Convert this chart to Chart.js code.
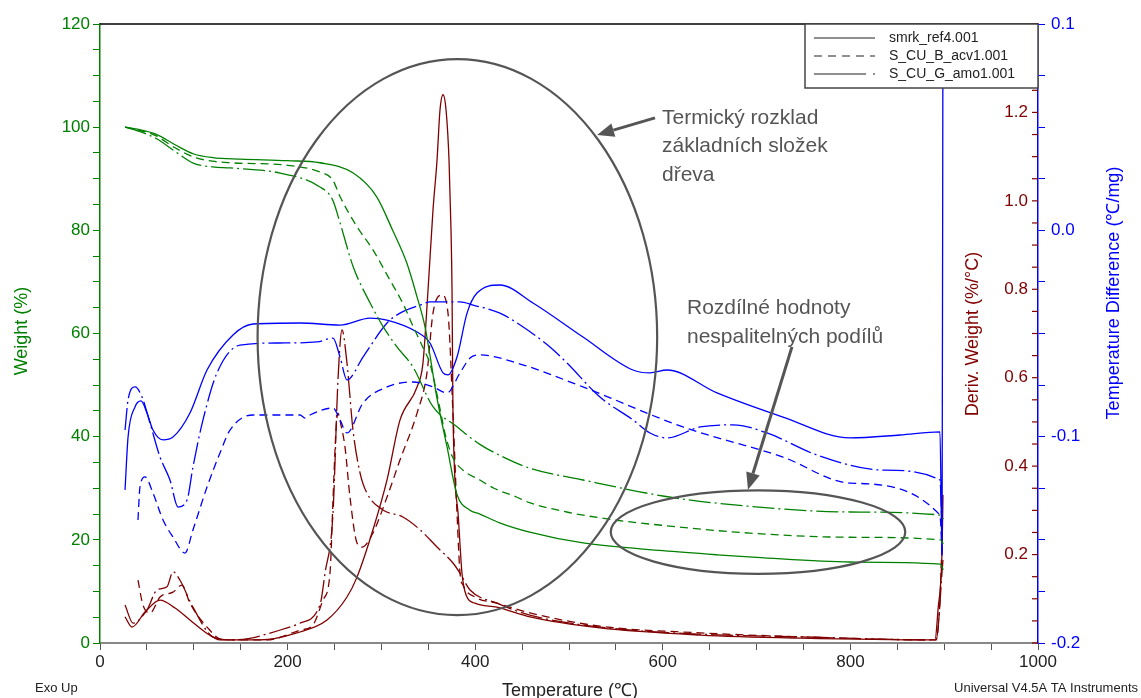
<!DOCTYPE html>
<html>
<head>
<meta charset="utf-8">
<title>TGA / DTA smrk</title>
<script src="https://cdn.jsdelivr.net/npm/chart.js@4.4.0/dist/chart.umd.min.js"></script>
<style>
  html, body { margin: 0; padding: 0; background: #fff; }
  #wrap { width: 1141px; height: 698px; position: relative; }
</style>
</head>
<body>
<div id="wrap"><canvas id="tgaChart"></canvas></div>
<script>
// Sample files
const sampleNames = ['smrk_ref4.001', 'S_CU_B_acv1.001', 'S_CU_G_amo1.001'];

// Weight (%) vs temperature (°C)
const weightRef = [[26.7,100],[40,99.6],[60,98.6],[80,96.6],[100,94.8],[120,94.1],[150,93.8],[200,93.5],[234.5,93.1],[270,91.1],[295,86.5],[312,80],[327,73.7],[338,67.1],[346.5,61.3],[352,55.5],[359,47.7],[370,38],[380.6,28.8],[394,25.8],[405,25.0],[426,23.3],[458,21.5],[515,19.4],[600,17.9],[658,17.1],[700,16.6],[800,15.7],[896,15.3],[899,14.2]];
const weightAcv = [[26.7,100],[40,99.5],[60,98.3],[80,96],[100,94.2],[120,93.4],[139,93.1],[200,92.6],[234.5,91.3],[248,89.8],[256,86.5],[274,80.7],[291,76.2],[309,70.4],[323,65.8],[334,61.3],[345,57],[352,54],[362,45.8],[368,40.5],[376,36],[387,33.5],[405,31.6],[420,30],[444,28.3],[458,27.2],[500,25.3],[551,23.8],[600,22.8],[693,21.3],[800,20.5],[896,20],[899,19.2]];
const weightAmo = [[26.7,100],[40,99.3],[60,97.8],[80,95.3],[100,93],[120,92.3],[139,92.1],[192,91.1],[234.5,88.4],[248,85.9],[256,81.4],[270,72.9],[288,65.9],[302,61.3],[316.6,57.4],[333.7,53.5],[355,45.8],[380,42],[405,38.5],[426,36.4],[458,33.9],[515,31.6],[600,28.5],[658,27.1],[800,25.4],[896,24.8],[899,24]];

// Derivative weight (%/°C)
const derivRef = [[26.7,0.059],[34.1,0.036],[48,0.070],[64,0.097],[80,0.079],[95.9,0.052],[111.9,0.025],[127.9,0.007],[170.6,0.007],[210,0.023],[242,0.052],[263.3,0.104],[274,0.149],[291,0.256],[306,0.369],[319.8,0.504],[338,0.579],[344.3,0.633],[349.7,0.798],[355,0.979],[359.3,1.092],[362.5,1.206],[365.7,1.240],[368.9,1.206],[372.1,1.092],[374.2,0.934],[375.3,0.798],[376.3,0.520],[381.7,0.294],[385.9,0.158],[390.2,0.109],[399.8,0.090],[423.2,0.081],[458.4,0.059],[533,0.034],[639.7,0.018],[746.3,0.011],[890.2,0.007],[893.4,0.075],[897.7,0.210],[898.7,0.335]];
const derivAcv = [[40.5,0.142],[45.8,0.086],[53.3,0.068],[64,0.104],[77.8,0.115],[87.4,0.131],[95.9,0.090],[114.1,0.036],[131.1,0.007],[178,0.007],[213.2,0.029],[227.1,0.041],[237.7,0.097],[245.2,0.158],[248.4,0.323],[251.6,0.482],[253.7,0.520],[256.9,0.493],[261.2,0.443],[266.5,0.330],[274,0.226],[279.3,0.217],[291,0.249],[306,0.330],[319.8,0.414],[338,0.520],[348.6,0.611],[355,0.746],[364.6,0.787],[371,0.746],[376.3,0.520],[380.6,0.294],[383.8,0.158],[387,0.131],[399.8,0.104],[423.2,0.090],[458.4,0.068],[533,0.038],[639.7,0.023],[746.3,0.014],[891.3,0.007],[895.5,0.097],[897.7,0.233]];
const derivAmo = [[26.7,0.086],[35.2,0.045],[50.1,0.075],[60.8,0.120],[71.4,0.127],[77.8,0.161],[85.3,0.142],[99.1,0.081],[120.5,0.014],[141.8,0.007],[199.4,0.034],[213.2,0.045],[234.5,0.086],[239.9,0.158],[248.4,0.294],[253.7,0.595],[258,0.708],[263.3,0.633],[269.7,0.482],[277.2,0.385],[284.6,0.339],[301.7,0.301],[323,0.285],[341.2,0.256],[359.3,0.217],[376.3,0.181],[383.8,0.158],[394.5,0.120],[423.2,0.090],[458.4,0.063],[533,0.036],[639.7,0.020],[746.3,0.014],[891.3,0.007],[898.7,0.188]];

// Temperature difference (°C/mg)
const dtaRef = [[26.7,-0.1258],[29.9,-0.1002],[37.3,-0.0856],[43.7,-0.0827],[50.1,-0.0885],[56.5,-0.0968],[67.2,-0.1016],[77.8,-0.1002],[95.9,-0.0885],[114.1,-0.0677],[141.8,-0.0507],[163.1,-0.0454],[213.2,-0.0449],[255.9,-0.0459],[287.8,-0.0425],[306,-0.0435],[338,-0.0493],[351.8,-0.0546],[365.7,-0.0691],[371,-0.0701],[380.6,-0.0614],[391.3,-0.0401],[401.9,-0.0304],[426.4,-0.0265],[461.6,-0.0352],[514.9,-0.0517],[568.2,-0.0677],[586.4,-0.0691],[604.5,-0.0677],[657.8,-0.0788],[728.1,-0.0905],[799.6,-0.1006],[852.9,-0.0992],[895.5,-0.0977],[897.7,-0.1574],[898.7,0.12]];
const dtaAcv = [[40.5,-0.1404],[42.6,-0.1244],[48,-0.1195],[56.5,-0.1273],[67.2,-0.1404],[77.8,-0.1486],[90.6,-0.1564],[99.1,-0.1452],[114.1,-0.1244],[127.9,-0.1079],[138.6,-0.0968],[163.1,-0.0895],[213.2,-0.0895],[218.6,-0.0910],[223.9,-0.0895],[248.4,-0.0861],[255.9,-0.0919],[263.3,-0.0982],[280.4,-0.0837],[306,-0.0759],[333.7,-0.0735],[355,-0.0759],[369.9,-0.0788],[383.8,-0.0691],[394.5,-0.0619],[405.1,-0.0604],[444.6,-0.0643],[514.9,-0.0759],[621.5,-0.0953],[728.1,-0.1099],[799.6,-0.1225],[895.5,-0.1380],[897.7,-0.1574]];
const dtaAmo = [[26.7,-0.0968],[29.9,-0.0822],[37.3,-0.0759],[44.8,-0.0808],[53.3,-0.0934],[64,-0.1099],[74.6,-0.1210],[83.2,-0.1341],[92.8,-0.1307],[99.1,-0.1147],[109.8,-0.0919],[124.7,-0.0691],[149.3,-0.0556],[191.9,-0.0546],[231.3,-0.0541],[248.4,-0.0522],[255.9,-0.0614],[263.3,-0.0725],[280.4,-0.0614],[306,-0.0449],[319.8,-0.0401],[341.2,-0.0362],[351.8,-0.0347],[383.8,-0.0347],[397.7,-0.0362],[426.4,-0.0401],[444.6,-0.0449],[479.7,-0.0565],[497.9,-0.0643],[533,-0.0808],[568.2,-0.0919],[586.4,-0.0982],[604.5,-0.1006],[639.7,-0.0953],[674.8,-0.0943],[711.1,-0.0982],[764.4,-0.1089],[834.8,-0.1162],[895.5,-0.1210],[897.7,-0.1452]];

// Axis tick labels
const tempTicks = [0, 200, 400, 600, 800, 1000];
const weightTicks = [0, 20, 40, 60, 80, 100, 120];
const derivTicks = [0.2, 0.4, 0.6, 0.8, 1.0, 1.2];
const dtaTicks = [-0.2, -0.1, 0.0, 0.1];

const FONT = "'Liberation Sans', Arial, Helvetica, sans-serif";
const GREEN = '#008000';
const RED = '#800000';
const BLUE = '#0000ff';
const GREY = '#555555';

// line styles per sample: solid, dashed, long dash + dot
const styles = [[], [8, 5], [22, 4, 2, 4]];

function pts(arr) {
    return arr.map(function(p) { return { x: p[0], y: p[1] }; });
}

function series(data, color, i, axis) {
    return {
        label: sampleNames[i],
        data: pts(data),
        borderColor: color,
        borderWidth: 1.3,
        borderDash: styles[i],
        pointRadius: 0,
        fill: false,
        cubicInterpolationMode: 'monotone',
        yAxisID: axis
    };
}

function isOn(v, list) {
    return list.some(function(t) { return Math.abs(t - v) < 1e-6; });
}

// annotations, extra axis, titles and legend
const decorPlugin = {
    id: 'tgaDecor',
    afterDraw: function(chart) {
        const ctx = chart.ctx;
        const a = chart.chartArea;
        const x = chart.scales.x, y = chart.scales.y, yD = chart.scales.yD;
        ctx.save();

        // top frame
        ctx.strokeStyle = '#000';
        ctx.lineWidth = 1.5;
        ctx.beginPath();
        ctx.moveTo(a.left, a.top);
        ctx.lineTo(a.right, a.top);
        ctx.stroke();

        // derivative axis, drawn inside the plot on the right edge
        ctx.strokeStyle = RED;
        ctx.lineWidth = 1.2;
        ctx.fillStyle = RED;
        ctx.font = '17px ' + FONT;
        ctx.textAlign = 'right';
        ctx.textBaseline = 'middle';
        for (let i = 0; i <= 28; i++) {
            const v = i * 0.05;
            const py = yD.getPixelForValue(v);
            ctx.beginPath();
            ctx.moveTo(a.right - 6, py);
            ctx.lineTo(a.right, py);
            ctx.stroke();
            if (isOn(v, derivTicks)) {
                ctx.fillText(v.toFixed(1), a.right - 10, py);
            }
        }

        // ellipses
        function ellipse(cx, cy, rx, ry) {
            const px = x.getPixelForValue(cx), py = y.getPixelForValue(cy);
            const rpx = Math.abs(x.getPixelForValue(cx + rx) - px);
            const rpy = Math.abs(y.getPixelForValue(cy + ry) - py);
            ctx.beginPath();
            ctx.ellipse(px, py, rpx, rpy, 0, 0, Math.PI * 2);
            ctx.stroke();
        }
        ctx.strokeStyle = GREY;
        ctx.lineWidth = 2.2;
        ellipse(381, 59.3, 213, 53.9);
        ellipse(701.5, 21.5, 157, 8.1);

        // arrows
        function arrow(t0, w0, t1, w1) {
            const x0 = x.getPixelForValue(t0), y0 = y.getPixelForValue(w0);
            const x1 = x.getPixelForValue(t1), y1 = y.getPixelForValue(w1);
            const ang = Math.atan2(y1 - y0, x1 - x0);
            const len = 17, half = 7;
            const bx = x1 - len * Math.cos(ang), by = y1 - len * Math.sin(ang);
            ctx.beginPath();
            ctx.moveTo(x0, y0);
            ctx.lineTo(bx, by);
            ctx.stroke();
            ctx.beginPath();
            ctx.moveTo(x1, y1);
            ctx.lineTo(bx + half * Math.sin(ang), by - half * Math.cos(ang));
            ctx.lineTo(bx - half * Math.sin(ang), by + half * Math.cos(ang));
            ctx.closePath();
            ctx.fill();
        }
        ctx.fillStyle = GREY;
        ctx.lineWidth = 3;
        arrow(591.7, 101.8, 529.9, 98.5);
        arrow(737.7, 57.4, 690.8, 29.7);

        // annotation texts
        ctx.font = '21px ' + FONT;
        ctx.textAlign = 'left';
        ctx.textBaseline = 'middle';
        function lines(t, w, list) {
            const px = x.getPixelForValue(t), py = y.getPixelForValue(w);
            list.forEach(function(s, k) { ctx.fillText(s, px, py + k * 28.8); });
        }
        lines(599.1, 101.8, ['Termický rozklad', 'základních složek', 'dřeva']);
        lines(625.8, 64.9, ['Rozdílné hodnoty', 'nespalitelných podílů']);

        // axis titles
        function vtitle(text, cx, cy, color) {
            ctx.save();
            ctx.translate(cx, cy);
            ctx.rotate(-Math.PI / 2);
            ctx.fillStyle = color;
            ctx.textAlign = 'center';
            ctx.textBaseline = 'middle';
            ctx.fillText(text, 0, 0);
            ctx.restore();
        }
        ctx.font = '18px ' + FONT;
        vtitle('Weight (%)', 22, 331, GREEN);
        vtitle('Deriv. Weight (%/°C)', 973, 334, RED);
        vtitle('Temperature Difference (℃/mg)', 1114, 293, BLUE);
        ctx.fillStyle = '#222';
        ctx.textAlign = 'center';
        ctx.textBaseline = 'alphabetic';
        ctx.fillText('Temperature (℃)', 570, 696);

        ctx.font = '13px ' + FONT;
        ctx.textAlign = 'left';
        ctx.fillText('Exo Up', 35, 692);
        ctx.textAlign = 'right';
        ctx.fillText('Universal V4.5A TA Instruments', 1138, 692);

        // legend box
        const lw = 233, lh = 64;
        const lx = a.right - lw, ly = a.top;
        ctx.fillStyle = '#fff';
        ctx.fillRect(lx, ly, lw, lh);
        ctx.strokeStyle = '#444';
        ctx.lineWidth = 1.5;
        ctx.strokeRect(lx, ly, lw, lh);
        const legendDash = [[], [8, 6], [52, 7, 2, 7]];
        ctx.font = '14px ' + FONT;
        ctx.textAlign = 'left';
        ctx.textBaseline = 'middle';
        sampleNames.forEach(function(name, k) {
            const ry = ly + 14 + k * 18;
            ctx.strokeStyle = '#222';
            ctx.lineWidth = 1.2;
            ctx.setLineDash(legendDash[k]);
            ctx.beginPath();
            ctx.moveTo(lx + 9, ry);
            ctx.lineTo(lx + 70, ry);
            ctx.stroke();
            ctx.setLineDash([]);
            ctx.fillStyle = '#222';
            ctx.fillText(name, lx + 84, ry);
        });

        ctx.restore();
    }
};

const ctx = document.getElementById('tgaChart').getContext('2d');
new Chart(ctx, {
    type: 'line',
    data: {
        datasets: [
            series(weightRef, GREEN, 0, 'y'),
            series(weightAcv, GREEN, 1, 'y'),
            series(weightAmo, GREEN, 2, 'y'),
            series(dtaRef, BLUE, 0, 'yT'),
            series(dtaAcv, BLUE, 1, 'yT'),
            series(dtaAmo, BLUE, 2, 'yT'),
            series(derivRef, RED, 0, 'yD'),
            series(derivAcv, RED, 1, 'yD'),
            series(derivAmo, RED, 2, 'yD')
        ]
    },
    options: {
        responsive: true,
        maintainAspectRatio: false,
        animation: false,
        devicePixelRatio: 1,
        layout: { padding: { top: 24, left: 0, right: 0, bottom: 0 } },
        plugins: {
            legend: { display: false },
            tooltip: { enabled: false }
        },
        scales: {
            x: {
                type: 'linear',
                min: 0,
                max: 1000,
                ticks: {
                    stepSize: 50,
                    autoSkip: false,
                    maxRotation: 0,
                    color: '#222',
                    font: { size: 17, family: FONT },
                    padding: 2,
                    callback: function(v) { return isOn(v, tempTicks) ? String(v) : ''; }
                },
                grid: { drawOnChartArea: false, drawTicks: true, tickLength: 7, color: '#555' },
                border: { color: '#888', width: 2 },
                afterFit: function(s) { s.height = 55; }
            },
            y: {
                position: 'left',
                min: 0,
                max: 120,
                ticks: {
                    stepSize: 5,
                    autoSkip: false,
                    color: GREEN,
                    font: { size: 17, family: FONT },
                    padding: 3,
                    callback: function(v) { return isOn(v, weightTicks) ? String(v) : ''; }
                },
                grid: { drawOnChartArea: false, tickLength: 7, color: GREEN },
                border: { color: GREEN, width: 1.5 },
                afterFit: function(s) { s.width = 100; }
            },
            yT: {
                position: 'right',
                min: -0.2,
                max: 0.1,
                ticks: {
                    stepSize: 0.025,
                    autoSkip: false,
                    color: BLUE,
                    font: { size: 17, family: FONT },
                    padding: 6,
                    callback: function(v) {
                        if (!isOn(v, dtaTicks)) return '';
                        const r = Math.round(v * 10) / 10;
                        return (r === 0 ? 0 : r).toFixed(1);
                    }
                },
                grid: { drawOnChartArea: false, tickLength: 7, color: BLUE },
                border: { color: BLUE, width: 1.5 },
                afterFit: function(s) { s.width = 103; }
            },
            yD: {
                display: false,
                position: 'right',
                min: 0,
                max: 1.4
            }
        }
    },
    plugins: [decorPlugin]
});
</script>
</body>
</html>
